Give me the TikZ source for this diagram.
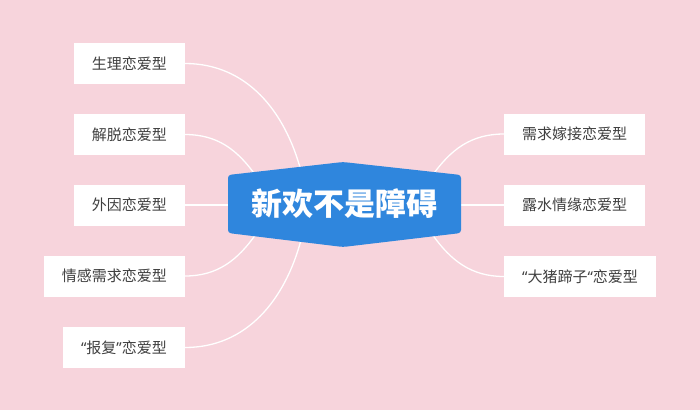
\documentclass[tikz,border=0pt]{standalone}
\usepackage{fontspec}
\newfontfamily\cjk{Noto Sans CJK SC}
\newfontfamily\latinq{Noto Sans}
\definecolor{bgpink}{HTML}{F7D4DC}
\definecolor{hexblue}{HTML}{2F86DD}
\definecolor{txtgray}{HTML}{3F3F3F}
\tikzset{
  leaf/.style={fill=white, draw=none, minimum height=41pt, inner xsep=18pt, inner ysep=0pt,
    font=\cjk\fontsize{15}{15}\selectfont, text=txtgray},
  link/.style={draw=white, line width=1.3pt},
}
\newcommand{\myoq}{{\latinq “}}
\newcommand{\mycq}{{\latinq ”}}
\begin{document}
\begin{tikzpicture}[x=1pt,y=-1pt]
\fill[bgpink] (0,0) rectangle (700,410);
\useasboundingbox (0,0) rectangle (700,410);

% leaves
\node[leaf, anchor=east] (l1) at (185,63.5) {生理恋爱型};
\node[leaf, anchor=east] (l2) at (185,134.5) {解脱恋爱型};
\node[leaf, anchor=east] (l3) at (185,205) {外因恋爱型};
\node[leaf, anchor=east] (l4) at (185,276) {情感需求恋爱型};
\node[leaf, anchor=east] (l5) at (185,347.5) {\myoq 报复\mycq 恋爱型};
\node[leaf, anchor=west] (r1) at (504,134) {需求嫁接恋爱型};
\node[leaf, anchor=west] (r2) at (504,205) {露水情缘恋爱型};
\node[leaf, anchor=west] (r3) at (504,276.5) {\myoq 大猪蹄子\myoq 恋爱型};

% connector ends on the hub
\coordinate (h1) at (301,171);
\coordinate (h2) at (256,176);
\coordinate (h3) at (232,205);
\coordinate (h4) at (256,234);
\coordinate (h5) at (301,240);
\coordinate (g1) at (432,176);
\coordinate (g2) at (457,205);
\coordinate (g3) at (432,234);

\draw[link] (l1.east) to[out=0,in=105] (h1);
\draw[link] (l2.east) to[out=0,in=125] (h2);
\draw[link] (l3.east) -- (h3);
\draw[link] (l4.east) to[out=0,in=-125] (h4);
\draw[link] (l5.east) to[out=0,in=-105] (h5);
\draw[link] (r1.west) to[out=180,in=55] (g1);
\draw[link] (r2.west) -- (g2);
\draw[link] (r3.west) to[out=180,in=-55] (g3);

% hub
\fill[hexblue, rounded corners=3pt] (228,175) -- (343,162) -- (461,175) -- (461,233) -- (343,247) -- (228,233) -- cycle;
\node[text=white, font=\cjk\bfseries\fontsize{31}{31}\selectfont, inner sep=0pt] (core) at (344.5,204) {新欢不是障碍};
\end{tikzpicture}
\end{document}
